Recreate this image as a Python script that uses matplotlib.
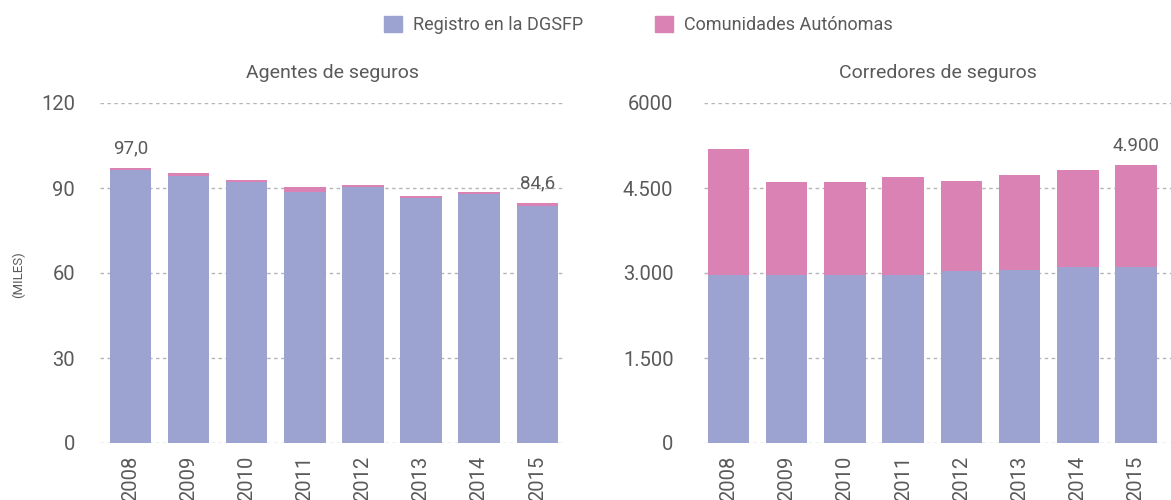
import matplotlib.pyplot as plt
from matplotlib.patches import Patch
import numpy as np

plt.rcParams['font.family'] = ['Roboto', 'DejaVu Sans']

years = ['2008', '2009', '2010', '2011', '2012', '2013', '2014', '2015']

# agentes de seguros (miles)
agentes_dgsfp = [96.2, 94.4, 92.0, 88.6, 90.3, 86.3, 87.8, 83.7]
agentes_ccaa = [0.8, 0.9, 0.8, 1.7, 0.7, 0.8, 0.7, 0.9]
agentes_labels = ['97,0', '', '', '', '', '', '', '84,6']

# corredores de seguros
corredores_dgsfp = [2970, 2970, 2970, 2970, 3030, 3060, 3110, 3110]
corredores_ccaa = [2220, 1640, 1640, 1730, 1600, 1670, 1700, 1790]
corredores_labels = ['', '', '', '', '', '', '', '4.900']

left_ticks = [0, 30, 60, 90, 120]
left_ticklabels = ['0', '30', '60', '90', '120']
right_ticks = [0, 1500, 3000, 4500, 6000]
right_ticklabels = ['0', '1.500', '3.000', '4.500', '6000']

BLUE = '#9da3d0'
PINK = '#db82b5'
TXT = '#5a5a5a'
GRID = '#b5b5b5'

fig = plt.figure(figsize=(11.71, 5), dpi=100)
ax1 = fig.add_axes([100 / 1171, 57 / 500, 465 / 1171, 340 / 500])
ax2 = fig.add_axes([704 / 1171, 57 / 500, 467 / 1171, 340 / 500])


def draw_panel(ax, base, extra, labels, ticks, ticklabels, title, ymax, xlim, pad):
    x = np.arange(len(years))
    total = np.array(base) + np.array(extra)
    ax.bar(x, base, width=0.71, color=BLUE, zorder=2)
    ax.bar(x, extra, bottom=base, width=0.71, color=PINK, zorder=2)
    for xi, t, lab in zip(x, total, labels):
        if lab:
            ax.annotate(lab, (xi, t), xytext=(0, 14), textcoords='offset points',
                        ha='center', va='center', fontsize=13.5, color=TXT)
    ax.set_ylim(0, ymax)
    ax.set_xlim(*xlim)
    ax.set_yticks(ticks)
    ax.set_yticklabels(ticklabels)
    ax.set_xticks(x)
    ax.set_xticklabels(years, rotation=90)
    for t in ticks:
        ax.axhline(t, color=GRID, lw=1, ls=(0, (2.5, 2.5)), zorder=1)
    for s in ax.spines.values():
        s.set_visible(False)
    ax.tick_params(axis='y', length=0, pad=pad, labelsize=14.5, labelcolor=TXT)
    ax.tick_params(axis='x', length=0, pad=9, labelsize=14.5, labelcolor=TXT)
    ax.set_title(title, fontsize=14, color=TXT, pad=18)


draw_panel(ax1, agentes_dgsfp, agentes_ccaa, agentes_labels, left_ticks,
           left_ticklabels, 'Agentes de seguros', 120, (-0.53, 7.48), 18)
draw_panel(ax2, corredores_dgsfp, corredores_ccaa, corredores_labels, right_ticks,
           right_ticklabels, 'Corredores de seguros', 6000, (-0.42, 7.6), 22)

fig.text(18 / 1171, 1 - 275 / 500, '(MILES)', rotation=90, ha='center', va='center',
         fontsize=9.5, color=TXT)

handles = [Patch(color=BLUE, label='Registro en la DGSFP'),
           Patch(color=PINK, label='Comunidades Autónomas')]
leg = fig.legend(handles=handles, loc='center', bbox_to_anchor=(0.545, 0.95), ncol=2,
                 frameon=False, fontsize=13, handlelength=1.0, handleheight=1.0,
                 handletextpad=0.6, columnspacing=4.0)
for t in leg.get_texts():
    t.set_color(TXT)

fig.savefig('out.png', dpi=100)
